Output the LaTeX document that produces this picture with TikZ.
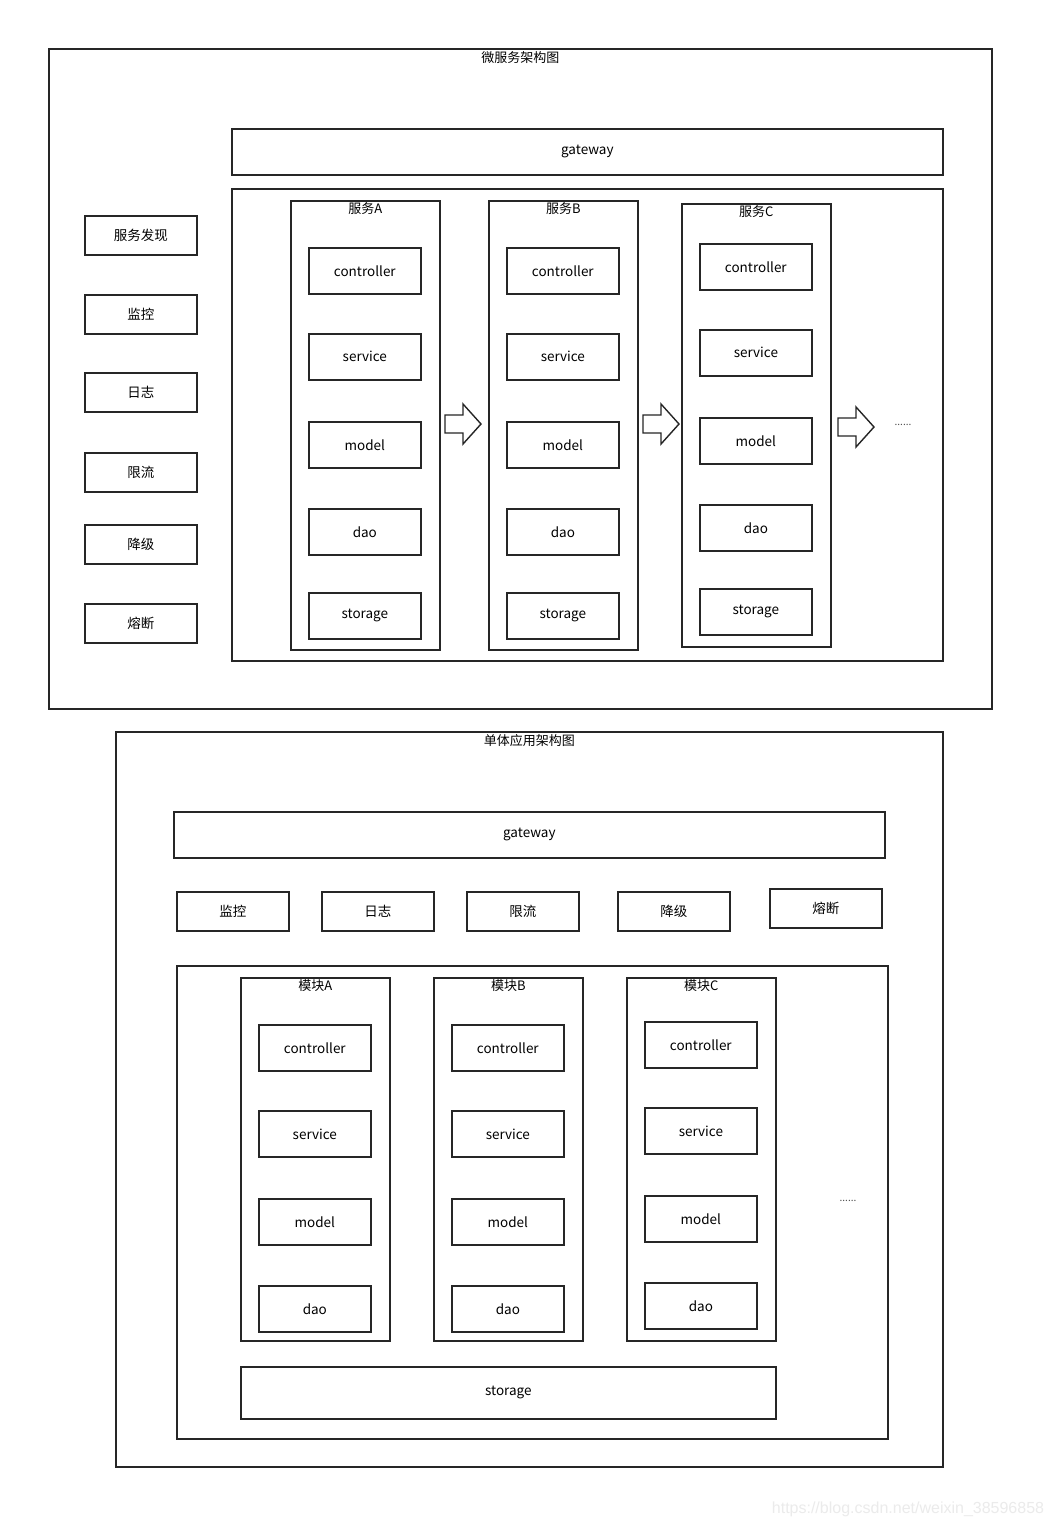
\documentclass[tikz,border=0pt]{standalone}
\usepackage{fontspec}
\setmainfont{Noto Sans CJK SC}
\newfontfamily\markfont{Liberation Sans}
\usetikzlibrary{positioning}
\tikzset{
  frame/.style={draw=black!85, line width=1.7pt, inner sep=0pt, anchor=north west},
  unit/.style={frame, minimum width=112pt, minimum height=46pt, font=\fontsize{13.5}{15}\selectfont},
  heading/.style={inner sep=0pt, anchor=north, font=\fontsize{13}{15}\selectfont},
  blockarrow/.style={draw=black!85, line width=1.4pt, line join=miter, fill=white},
  etc/.style={inner sep=0pt, text=black!70, font=\fontsize{10}{12}\selectfont},
}
\begin{document}
\begin{tikzpicture}[x=1pt,y=-1pt]
  \fill[white] (0,0) rectangle (1053,1528);
  \useasboundingbox (0,0) rectangle (1053,1528);

  % micro services
  \node[frame, minimum width=943pt, minimum height=660pt] (micro) at (48,48) {};
  \node[heading, below=3pt of micro.north] (microtitle) {微服务架构图};
  \node[unit, minimum width=711pt, minimum height=46pt] (gw1) at (231,128) {gateway};
  \node[frame, minimum width=711pt, minimum height=472pt] (svcs) at (231,188) {};

  \node[unit, minimum height=39pt] (discovery) at (84,215) {服务发现};
  \node[unit, minimum height=39pt] (monitor1) at (84,294) {监控};
  \node[unit, minimum height=39pt] (log1) at (84,372) {日志};
  \node[unit, minimum height=39pt] (limit1) at (84,452) {限流};
  \node[unit, minimum height=39pt] (degrade1) at (84,524) {降级};
  \node[unit, minimum height=39pt] (fuse1) at (84,603) {熔断};

  \foreach \col/\cx/\cy/\ch/\by in {A/290/200/449/247, B/488/200/449/247, C/681/203/443/243} {
    \node[frame, minimum width=149pt, minimum height=\ch pt] (svc\col) at (\cx,\cy) {};
    \node[heading, below=2pt of svc\col.north] (svc\col-title) {服务\col};
    \foreach \part/\dy in {controller/0, service/86, model/174, dao/261, storage/345}
      \node[unit] (svc\col-\part) at (\cx+18,\by+\dy) {\part};
  }

  % arrows between services
  \foreach \ax/\ay in {445/424, 643/424, 838/427}
    \draw[blockarrow] (\ax,\ay-9) -- ++(18,0) -- ++(0,-11) -- ++(18,20)
      -- ++(-18,20) -- ++(0,-11) -- ++(-18,0) -- cycle;
  \node[etc] (more1) at (903,425) {......};

  % monolith
  \node[frame, minimum width=827pt, minimum height=735pt] (mono) at (115,731) {};
  \node[heading, below=3pt of mono.north] (monotitle) {单体应用架构图};
  \node[unit, minimum width=711pt, minimum height=46pt] (gw2) at (173,811) {gateway};

  \node[unit, minimum height=39pt] (monitor2) at (176,891) {监控};
  \node[unit, minimum height=39pt] (log2) at (321,891) {日志};
  \node[unit, minimum height=39pt] (limit2) at (466,891) {限流};
  \node[unit, minimum height=39pt] (degrade2) at (617,891) {降级};
  \node[unit, minimum height=39pt] (fuse2) at (769,888) {熔断};

  \node[frame, minimum width=711pt, minimum height=473pt] (mods) at (176,965) {};
  \foreach \col/\cx/\by in {A/240/1024, B/433/1024, C/626/1021} {
    \node[frame, minimum width=149pt, minimum height=363pt] (mod\col) at (\cx,977) {};
    \node[heading, below=2pt of mod\col.north] (mod\col-title) {模块\col};
    \foreach \part/\dy in {controller/0, service/86, model/174, dao/261}
      \node[unit] (mod\col-\part) at (\cx+18,\by+\dy) {\part};
  }
  \node[unit, minimum width=535pt, minimum height=52pt] (store) at (240,1366) {storage};
  \node[etc] (more2) at (848,1201) {......};

  \node[inner sep=0pt, text=black!8, font=\markfont\fontsize{16}{18}\selectfont] (mark) at (908,1509) {https://blog.csdn.net/weixin\_38596858};
\end{tikzpicture}
\end{document}
